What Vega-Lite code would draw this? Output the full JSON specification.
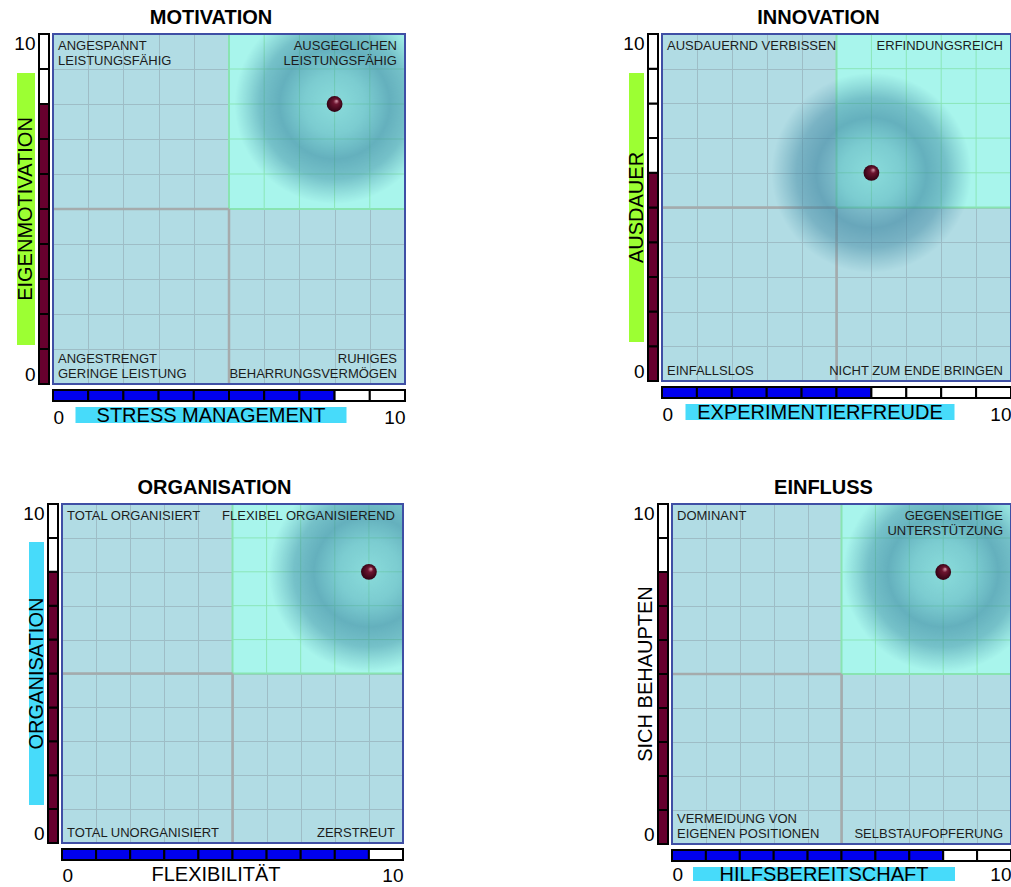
{
"$schema": "https://vega.github.io/schema/vega-lite/v6.json",
"padding": {"left": 13, "top": 8, "right": 0, "bottom": 0},
"config": {"font": "Liberation Sans", "view": {"stroke": null}, "title": {"font": "Liberation Sans"}, "axis": {"labelFont": "Liberation Sans"}},
"datasets": {
"scores": [{"p": "M", "x": 8, "y": 8}, {"p": "I", "x": 6, "y": 6}, {"p": "O", "x": 9, "y": 8}, {"p": "E", "x": 8, "y": 8}],
"qgrid": [{"v": 6}, {"v": 7}, {"v": 8}, {"v": 9}],
"labels": [
{"p": "M", "c": "tl", "t": "ANGESPANNT\nLEISTUNGSFÄHIG"},
{"p": "M", "c": "tr", "t": "AUSGEGLICHEN\nLEISTUNGSFÄHIG"},
{"p": "M", "c": "bl", "t": "ANGESTRENGT\nGERINGE LEISTUNG"},
{"p": "M", "c": "br", "t": "RUHIGES\nBEHARRUNGSVERMÖGEN"},
{"p": "I", "c": "tl", "t": "AUSDAUERND VERBISSEN"},
{"p": "I", "c": "tr", "t": "ERFINDUNGSREICH"},
{"p": "I", "c": "bl", "t": "EINFALLSLOS"},
{"p": "I", "c": "br", "t": "NICHT ZUM ENDE BRINGEN"},
{"p": "O", "c": "tl", "t": "TOTAL ORGANISIERT"},
{"p": "O", "c": "tr", "t": "FLEXIBEL ORGANISIEREND"},
{"p": "O", "c": "bl", "t": "TOTAL UNORGANISIERT"},
{"p": "O", "c": "br", "t": "ZERSTREUT"},
{"p": "E", "c": "tl", "t": "DOMINANT"},
{"p": "E", "c": "tr", "t": "GEGENSEITIGE\nUNTERSTÜTZUNG"},
{"p": "E", "c": "bl", "t": "VERMEIDUNG VON\nEIGENEN POSITIONEN"},
{"p": "E", "c": "br", "t": "SELBSTAUFOPFERUNG"}
],
"segs": [
{"p":"M","b":"v","lo":0,"hi":1,"on":1},{"p":"M","b":"v","lo":1,"hi":2,"on":1},{"p":"M","b":"v","lo":2,"hi":3,"on":1},{"p":"M","b":"v","lo":3,"hi":4,"on":1},{"p":"M","b":"v","lo":4,"hi":5,"on":1},{"p":"M","b":"v","lo":5,"hi":6,"on":1},{"p":"M","b":"v","lo":6,"hi":7,"on":1},{"p":"M","b":"v","lo":7,"hi":8,"on":1},{"p":"M","b":"v","lo":8,"hi":9,"on":0},{"p":"M","b":"v","lo":9,"hi":10,"on":0},
{"p":"M","b":"h","lo":0,"hi":1,"on":1},{"p":"M","b":"h","lo":1,"hi":2,"on":1},{"p":"M","b":"h","lo":2,"hi":3,"on":1},{"p":"M","b":"h","lo":3,"hi":4,"on":1},{"p":"M","b":"h","lo":4,"hi":5,"on":1},{"p":"M","b":"h","lo":5,"hi":6,"on":1},{"p":"M","b":"h","lo":6,"hi":7,"on":1},{"p":"M","b":"h","lo":7,"hi":8,"on":1},{"p":"M","b":"h","lo":8,"hi":9,"on":0},{"p":"M","b":"h","lo":9,"hi":10,"on":0},
{"p":"I","b":"v","lo":0,"hi":1,"on":1},{"p":"I","b":"v","lo":1,"hi":2,"on":1},{"p":"I","b":"v","lo":2,"hi":3,"on":1},{"p":"I","b":"v","lo":3,"hi":4,"on":1},{"p":"I","b":"v","lo":4,"hi":5,"on":1},{"p":"I","b":"v","lo":5,"hi":6,"on":1},{"p":"I","b":"v","lo":6,"hi":7,"on":0},{"p":"I","b":"v","lo":7,"hi":8,"on":0},{"p":"I","b":"v","lo":8,"hi":9,"on":0},{"p":"I","b":"v","lo":9,"hi":10,"on":0},
{"p":"I","b":"h","lo":0,"hi":1,"on":1},{"p":"I","b":"h","lo":1,"hi":2,"on":1},{"p":"I","b":"h","lo":2,"hi":3,"on":1},{"p":"I","b":"h","lo":3,"hi":4,"on":1},{"p":"I","b":"h","lo":4,"hi":5,"on":1},{"p":"I","b":"h","lo":5,"hi":6,"on":1},{"p":"I","b":"h","lo":6,"hi":7,"on":0},{"p":"I","b":"h","lo":7,"hi":8,"on":0},{"p":"I","b":"h","lo":8,"hi":9,"on":0},{"p":"I","b":"h","lo":9,"hi":10,"on":0},
{"p":"O","b":"v","lo":0,"hi":1,"on":1},{"p":"O","b":"v","lo":1,"hi":2,"on":1},{"p":"O","b":"v","lo":2,"hi":3,"on":1},{"p":"O","b":"v","lo":3,"hi":4,"on":1},{"p":"O","b":"v","lo":4,"hi":5,"on":1},{"p":"O","b":"v","lo":5,"hi":6,"on":1},{"p":"O","b":"v","lo":6,"hi":7,"on":1},{"p":"O","b":"v","lo":7,"hi":8,"on":1},{"p":"O","b":"v","lo":8,"hi":9,"on":0},{"p":"O","b":"v","lo":9,"hi":10,"on":0},
{"p":"O","b":"h","lo":0,"hi":1,"on":1},{"p":"O","b":"h","lo":1,"hi":2,"on":1},{"p":"O","b":"h","lo":2,"hi":3,"on":1},{"p":"O","b":"h","lo":3,"hi":4,"on":1},{"p":"O","b":"h","lo":4,"hi":5,"on":1},{"p":"O","b":"h","lo":5,"hi":6,"on":1},{"p":"O","b":"h","lo":6,"hi":7,"on":1},{"p":"O","b":"h","lo":7,"hi":8,"on":1},{"p":"O","b":"h","lo":8,"hi":9,"on":1},{"p":"O","b":"h","lo":9,"hi":10,"on":0},
{"p":"E","b":"v","lo":0,"hi":1,"on":1},{"p":"E","b":"v","lo":1,"hi":2,"on":1},{"p":"E","b":"v","lo":2,"hi":3,"on":1},{"p":"E","b":"v","lo":3,"hi":4,"on":1},{"p":"E","b":"v","lo":4,"hi":5,"on":1},{"p":"E","b":"v","lo":5,"hi":6,"on":1},{"p":"E","b":"v","lo":6,"hi":7,"on":1},{"p":"E","b":"v","lo":7,"hi":8,"on":1},{"p":"E","b":"v","lo":8,"hi":9,"on":0},{"p":"E","b":"v","lo":9,"hi":10,"on":0},
{"p":"E","b":"h","lo":0,"hi":1,"on":1},{"p":"E","b":"h","lo":1,"hi":2,"on":1},{"p":"E","b":"h","lo":2,"hi":3,"on":1},{"p":"E","b":"h","lo":3,"hi":4,"on":1},{"p":"E","b":"h","lo":4,"hi":5,"on":1},{"p":"E","b":"h","lo":5,"hi":6,"on":1},{"p":"E","b":"h","lo":6,"hi":7,"on":1},{"p":"E","b":"h","lo":7,"hi":8,"on":1},{"p":"E","b":"h","lo":8,"hi":9,"on":0},{"p":"E","b":"h","lo":9,"hi":10,"on":0}
]
},
"spacing": 51,
"vconcat": [
{"hconcat": [
{"concat": [
{"width": 18, "height": 272, "view": {"fill": "#9cff33"}, "data": {"values": [{"t": "EIGENMOTIVATION"}]}, "mark": {"type": "text", "angle": 270, "fontSize": 20, "baseline": "middle", "color": "black"}, "encoding": {"text": {"field": "t"}, "x": {"field": "t", "type": "nominal", "axis": null}, "y": {"field": "t", "type": "nominal", "axis": null}}},
{"width": 10, "height": 350, "data": {"name": "segs"}, "transform": [{"filter": "datum.p==='M' && datum.b==='v'"}], "mark": {"type": "rect", "stroke": "black", "strokeWidth": 2}, "encoding": {"y": {"field": "lo", "type": "quantitative", "scale": {"domain": [0, 10], "nice": false}, "axis": {"values": [0, 10], "labelFlush": true, "labelFontSize": 19, "labelColor": "black", "labelPadding": 4, "ticks": false, "domain": false, "grid": false, "title": null}}, "y2": {"field": "hi"}, "fill": {"condition": {"test": "datum.on === 1", "value": "#66002e"}, "value": "white"}}},
{"width": 352, "height": 350,
 "title": {"text": "MOTIVATION", "fontSize": 20, "fontWeight": "bold", "anchor": "middle", "dx": -18, "offset": 5, "color": "black"},
 "view": {"fill": "#b1dce4"},
 "layer": [
  {"data": {"values": [{}]}, "mark": {"type": "rect", "fill": "#a8f5ec", "stroke": "#88e4b2", "strokeWidth": 2}, "encoding": {"x": {"datum": 5, "type": "quantitative", "scale": {"domain": [0, 10], "nice": false, "zero": false}, "axis": {"values": [1,2,3,4,5,6,7,8,9], "grid": true, "gridColor": "#9ebdc6", "gridWidth": 1, "labels": false, "ticks": false, "domain": false, "title": null}}, "x2": {"datum": 10}, "y": {"datum": 5, "type": "quantitative", "scale": {"domain": [0, 10], "nice": false, "zero": false}, "axis": {"values": [1,2,3,4,5,6,7,8,9], "grid": true, "gridColor": "#9ebdc6", "gridWidth": 1, "labels": false, "ticks": false, "domain": false, "title": null}}, "y2": {"datum": 10}}},
  {"data": {"name": "qgrid"}, "mark": {"type": "rule", "color": "#8ae6b8", "strokeWidth": 1}, "encoding": {"x": {"field": "v", "type": "quantitative"}, "y": {"datum": 5, "type": "quantitative"}, "y2": {"datum": 10}}},
  {"data": {"name": "qgrid"}, "mark": {"type": "rule", "color": "#8ae6b8", "strokeWidth": 1}, "encoding": {"y": {"field": "v", "type": "quantitative"}, "x": {"datum": 5, "type": "quantitative"}, "x2": {"datum": 10}}},
  {"data": {"values": [{}]}, "mark": {"type": "rule", "color": "#a5abac", "strokeWidth": 2.5}, "encoding": {"x": {"datum": 5, "type": "quantitative"}, "y": {"datum": 0, "type": "quantitative"}, "y2": {"datum": 5}}},
  {"data": {"values": [{}]}, "mark": {"type": "rule", "color": "#a5abac", "strokeWidth": 2.5}, "encoding": {"y": {"datum": 5, "type": "quantitative"}, "x": {"datum": 0, "type": "quantitative"}, "x2": {"datum": 5}}},
  {"data": {"name": "scores"}, "transform": [{"filter": "datum.p==='M'"}], "mark": {"type": "point", "shape": "circle", "filled": true, "size": 40000, "opacity": 1, "clip": true, "strokeWidth": 0, "fill": {"gradient": "radial", "x1": 0.5, "y1": 0.5, "r1": 0, "x2": 0.5, "y2": 0.5, "r2": 0.5, "stops": [{"offset": 0, "color": "rgba(80,170,185,0.35)"}, {"offset": 0.3, "color": "rgba(70,155,175,0.45)"}, {"offset": 0.55, "color": "rgba(55,130,158,0.6)"}, {"offset": 0.75, "color": "rgba(55,130,158,0.45)"}, {"offset": 0.9, "color": "rgba(60,135,160,0.18)"}, {"offset": 1, "color": "rgba(60,135,160,0)"}]}}, "encoding": {"x": {"field": "x", "type": "quantitative"}, "y": {"field": "y", "type": "quantitative"}}},
  {"data": {"name": "scores"}, "transform": [{"filter": "datum.p==='M'"}], "mark": {"type": "point", "shape": "circle", "filled": true, "size": 250, "opacity": 1, "strokeWidth": 0, "fill": {"gradient": "radial", "x1": 0.64, "y1": 0.3, "r1": 0, "x2": 0.5, "y2": 0.5, "r2": 0.55, "stops": [{"offset": 0, "color": "#e0a8b8"}, {"offset": 0.3, "color": "#6e1530"}, {"offset": 1, "color": "#2a0010"}]}}, "encoding": {"x": {"field": "x", "type": "quantitative"}, "y": {"field": "y", "type": "quantitative"}}},
  {"data": {"name": "labels"}, "transform": [{"filter": "datum.p==='M' && datum.c==='tl'"}], "mark": {"type": "text", "align": "left", "baseline": "top", "dx": 5, "dy": 6, "fontSize": 13, "lineHeight": 15, "lineBreak": "\n", "color": "#1c1c1c"}, "encoding": {"x": {"datum": 0, "type": "quantitative"}, "y": {"datum": 10, "type": "quantitative"}, "text": {"field": "t"}}},
  {"data": {"name": "labels"}, "transform": [{"filter": "datum.p==='M' && datum.c==='tr'"}], "mark": {"type": "text", "align": "right", "baseline": "top", "dx": -8, "dy": 6, "fontSize": 13, "lineHeight": 15, "lineBreak": "\n", "color": "#1c1c1c"}, "encoding": {"x": {"datum": 10, "type": "quantitative"}, "y": {"datum": 10, "type": "quantitative"}, "text": {"field": "t"}}},
  {"data": {"name": "labels"}, "transform": [{"filter": "datum.p==='M' && datum.c==='bl'"}], "mark": {"type": "text", "align": "left", "baseline": "alphabetic", "dx": 5, "dy": -21, "fontSize": 13, "lineHeight": 15, "lineBreak": "\n", "color": "#1c1c1c"}, "encoding": {"x": {"datum": 0, "type": "quantitative"}, "y": {"datum": 0, "type": "quantitative"}, "text": {"field": "t"}}},
  {"data": {"name": "labels"}, "transform": [{"filter": "datum.p==='M' && datum.c==='br'"}], "mark": {"type": "text", "align": "right", "baseline": "alphabetic", "dx": -8, "dy": -21, "fontSize": 13, "lineHeight": 15, "lineBreak": "\n", "color": "#1c1c1c"}, "encoding": {"x": {"datum": 10, "type": "quantitative"}, "y": {"datum": 0, "type": "quantitative"}, "text": {"field": "t"}}},
  {"data": {"values": [{}]}, "mark": {"type": "rect", "fill": "transparent", "stroke": "#3f4fa5", "strokeWidth": 2}, "encoding": {"x": {"datum": 0, "type": "quantitative"}, "x2": {"datum": 10}, "y": {"datum": 0, "type": "quantitative"}, "y2": {"datum": 10}}}
 ]},
{"width": 1, "height": 1, "data": {"values": [{}]}, "mark": {"type": "point", "opacity": 0}},
{"width": 1, "height": 1, "data": {"values": [{}]}, "mark": {"type": "point", "opacity": 0}},
{"width": 352, "height": 11, "data": {"name": "segs"}, "transform": [{"filter": "datum.p==='M' && datum.b==='h'"}], "mark": {"type": "rect", "stroke": "black", "strokeWidth": 2}, "encoding": {"x": {"field": "lo", "type": "quantitative", "scale": {"domain": [0, 10], "nice": false}, "axis": {"values": [0, 10], "labelFlush": true, "labelFontSize": 19, "labelColor": "black", "labelPadding": 7, "ticks": false, "domain": false, "grid": false, "title": null}}, "x2": {"field": "hi"}, "fill": {"condition": {"test": "datum.on === 1", "value": "#0000ee"}, "value": "white"}}},
{"width": 1, "height": 1, "data": {"values": [{}]}, "mark": {"type": "point", "opacity": 0}},
{"width": 1, "height": 1, "data": {"values": [{}]}, "mark": {"type": "point", "opacity": 0}},
{"width": 271, "height": 16, "view": {"fill": "#47dbfa"}, "data": {"values": [{"t": "STRESS MANAGEMENT"}]}, "mark": {"type": "text", "fontSize": 20, "baseline": "middle", "dy": 1, "color": "black"}, "encoding": {"text": {"field": "t"}, "x": {"field": "t", "type": "nominal", "axis": null}, "y": {"field": "t", "type": "nominal", "axis": null}}}
], "columns": 3, "spacing": {"row": 6, "column": 4}, "bounds": "flush", "align": "each", "center": true},

{"concat": [
{"width": 15, "height": 269, "view": {"fill": "#9cff33"}, "data": {"values": [{"t": "AUSDAUER"}]}, "mark": {"type": "text", "angle": 270, "fontSize": 20, "baseline": "middle", "color": "black"}, "encoding": {"text": {"field": "t"}, "x": {"field": "t", "type": "nominal", "axis": null}, "y": {"field": "t", "type": "nominal", "axis": null}}},
{"width": 10, "height": 347, "data": {"name": "segs"}, "transform": [{"filter": "datum.p==='I' && datum.b==='v'"}], "mark": {"type": "rect", "stroke": "black", "strokeWidth": 2}, "encoding": {"y": {"field": "lo", "type": "quantitative", "scale": {"domain": [0, 10], "nice": false}, "axis": {"values": [0, 10], "labelFlush": true, "labelFontSize": 19, "labelColor": "black", "labelPadding": 4, "ticks": false, "domain": false, "grid": false, "title": null}}, "y2": {"field": "hi"}, "fill": {"condition": {"test": "datum.on === 1", "value": "#66002e"}, "value": "white"}}},
{"width": 349, "height": 347,
 "title": {"text": "INNOVATION", "fontSize": 20, "fontWeight": "bold", "anchor": "middle", "dx": -18, "offset": 5, "color": "black"},
 "view": {"fill": "#b1dce4"},
 "layer": [
  {"data": {"values": [{}]}, "mark": {"type": "rect", "fill": "#a8f5ec", "stroke": "#88e4b2", "strokeWidth": 2}, "encoding": {"x": {"datum": 5, "type": "quantitative", "scale": {"domain": [0, 10], "nice": false, "zero": false}, "axis": {"values": [1,2,3,4,5,6,7,8,9], "grid": true, "gridColor": "#9ebdc6", "gridWidth": 1, "labels": false, "ticks": false, "domain": false, "title": null}}, "x2": {"datum": 10}, "y": {"datum": 5, "type": "quantitative", "scale": {"domain": [0, 10], "nice": false, "zero": false}, "axis": {"values": [1,2,3,4,5,6,7,8,9], "grid": true, "gridColor": "#9ebdc6", "gridWidth": 1, "labels": false, "ticks": false, "domain": false, "title": null}}, "y2": {"datum": 10}}},
  {"data": {"name": "qgrid"}, "mark": {"type": "rule", "color": "#8ae6b8", "strokeWidth": 1}, "encoding": {"x": {"field": "v", "type": "quantitative"}, "y": {"datum": 5, "type": "quantitative"}, "y2": {"datum": 10}}},
  {"data": {"name": "qgrid"}, "mark": {"type": "rule", "color": "#8ae6b8", "strokeWidth": 1}, "encoding": {"y": {"field": "v", "type": "quantitative"}, "x": {"datum": 5, "type": "quantitative"}, "x2": {"datum": 10}}},
  {"data": {"values": [{}]}, "mark": {"type": "rule", "color": "#a5abac", "strokeWidth": 2.5}, "encoding": {"x": {"datum": 5, "type": "quantitative"}, "y": {"datum": 0, "type": "quantitative"}, "y2": {"datum": 5}}},
  {"data": {"values": [{}]}, "mark": {"type": "rule", "color": "#a5abac", "strokeWidth": 2.5}, "encoding": {"y": {"datum": 5, "type": "quantitative"}, "x": {"datum": 0, "type": "quantitative"}, "x2": {"datum": 5}}},
  {"data": {"name": "scores"}, "transform": [{"filter": "datum.p==='I'"}], "mark": {"type": "point", "shape": "circle", "filled": true, "size": 40000, "opacity": 1, "clip": true, "strokeWidth": 0, "fill": {"gradient": "radial", "x1": 0.5, "y1": 0.5, "r1": 0, "x2": 0.5, "y2": 0.5, "r2": 0.5, "stops": [{"offset": 0, "color": "rgba(80,170,185,0.35)"}, {"offset": 0.3, "color": "rgba(70,155,175,0.45)"}, {"offset": 0.55, "color": "rgba(55,130,158,0.6)"}, {"offset": 0.75, "color": "rgba(55,130,158,0.45)"}, {"offset": 0.9, "color": "rgba(60,135,160,0.18)"}, {"offset": 1, "color": "rgba(60,135,160,0)"}]}}, "encoding": {"x": {"field": "x", "type": "quantitative"}, "y": {"field": "y", "type": "quantitative"}}},
  {"data": {"name": "scores"}, "transform": [{"filter": "datum.p==='I'"}], "mark": {"type": "point", "shape": "circle", "filled": true, "size": 250, "opacity": 1, "strokeWidth": 0, "fill": {"gradient": "radial", "x1": 0.64, "y1": 0.3, "r1": 0, "x2": 0.5, "y2": 0.5, "r2": 0.55, "stops": [{"offset": 0, "color": "#e0a8b8"}, {"offset": 0.3, "color": "#6e1530"}, {"offset": 1, "color": "#2a0010"}]}}, "encoding": {"x": {"field": "x", "type": "quantitative"}, "y": {"field": "y", "type": "quantitative"}}},
  {"data": {"name": "labels"}, "transform": [{"filter": "datum.p==='I' && datum.c==='tl'"}], "mark": {"type": "text", "align": "left", "baseline": "top", "dx": 5, "dy": 6, "fontSize": 13, "lineHeight": 15, "lineBreak": "\n", "color": "#1c1c1c"}, "encoding": {"x": {"datum": 0, "type": "quantitative"}, "y": {"datum": 10, "type": "quantitative"}, "text": {"field": "t"}}},
  {"data": {"name": "labels"}, "transform": [{"filter": "datum.p==='I' && datum.c==='tr'"}], "mark": {"type": "text", "align": "right", "baseline": "top", "dx": -8, "dy": 6, "fontSize": 13, "lineHeight": 15, "lineBreak": "\n", "color": "#1c1c1c"}, "encoding": {"x": {"datum": 10, "type": "quantitative"}, "y": {"datum": 10, "type": "quantitative"}, "text": {"field": "t"}}},
  {"data": {"name": "labels"}, "transform": [{"filter": "datum.p==='I' && datum.c==='bl'"}], "mark": {"type": "text", "align": "left", "baseline": "alphabetic", "dx": 5, "dy": -6, "fontSize": 13, "lineHeight": 15, "lineBreak": "\n", "color": "#1c1c1c"}, "encoding": {"x": {"datum": 0, "type": "quantitative"}, "y": {"datum": 0, "type": "quantitative"}, "text": {"field": "t"}}},
  {"data": {"name": "labels"}, "transform": [{"filter": "datum.p==='I' && datum.c==='br'"}], "mark": {"type": "text", "align": "right", "baseline": "alphabetic", "dx": -8, "dy": -6, "fontSize": 13, "lineHeight": 15, "lineBreak": "\n", "color": "#1c1c1c"}, "encoding": {"x": {"datum": 10, "type": "quantitative"}, "y": {"datum": 0, "type": "quantitative"}, "text": {"field": "t"}}},
  {"data": {"values": [{}]}, "mark": {"type": "rect", "fill": "transparent", "stroke": "#3f4fa5", "strokeWidth": 2}, "encoding": {"x": {"datum": 0, "type": "quantitative"}, "x2": {"datum": 10}, "y": {"datum": 0, "type": "quantitative"}, "y2": {"datum": 10}}}
 ]},
{"width": 1, "height": 1, "data": {"values": [{}]}, "mark": {"type": "point", "opacity": 0}},
{"width": 1, "height": 1, "data": {"values": [{}]}, "mark": {"type": "point", "opacity": 0}},
{"width": 349, "height": 11, "data": {"name": "segs"}, "transform": [{"filter": "datum.p==='I' && datum.b==='h'"}], "mark": {"type": "rect", "stroke": "black", "strokeWidth": 2}, "encoding": {"x": {"field": "lo", "type": "quantitative", "scale": {"domain": [0, 10], "nice": false}, "axis": {"values": [0, 10], "labelFlush": true, "labelFontSize": 19, "labelColor": "black", "labelPadding": 7, "ticks": false, "domain": false, "grid": false, "title": null}}, "x2": {"field": "hi"}, "fill": {"condition": {"test": "datum.on === 1", "value": "#0000ee"}, "value": "white"}}},
{"width": 1, "height": 1, "data": {"values": [{}]}, "mark": {"type": "point", "opacity": 0}},
{"width": 1, "height": 1, "data": {"values": [{}]}, "mark": {"type": "point", "opacity": 0}},
{"width": 269, "height": 16, "view": {"fill": "#47dbfa"}, "data": {"values": [{"t": "EXPERIMENTIERFREUDE"}]}, "mark": {"type": "text", "fontSize": 20, "baseline": "middle", "dy": 1, "color": "black"}, "encoding": {"text": {"field": "t"}, "x": {"field": "t", "type": "nominal", "axis": null}, "y": {"field": "t", "type": "nominal", "axis": null}}}
], "columns": 3, "spacing": {"row": 6, "column": 4}, "bounds": "flush", "align": "each", "center": true}
], "spacing": 216},

{"hconcat": [
{"width": 4, "height": 1, "data": {"values": [{}]}, "mark": {"type": "point", "opacity": 0}},
{"hconcat": [
{"concat": [
{"width": 15, "height": 263, "view": {"fill": "#47dbfa"}, "data": {"values": [{"t": "ORGANISATION"}]}, "mark": {"type": "text", "angle": 270, "fontSize": 20, "baseline": "middle", "color": "black"}, "encoding": {"text": {"field": "t"}, "x": {"field": "t", "type": "nominal", "axis": null}, "y": {"field": "t", "type": "nominal", "axis": null}}},
{"width": 10, "height": 339, "data": {"name": "segs"}, "transform": [{"filter": "datum.p==='O' && datum.b==='v'"}], "mark": {"type": "rect", "stroke": "black", "strokeWidth": 2}, "encoding": {"y": {"field": "lo", "type": "quantitative", "scale": {"domain": [0, 10], "nice": false}, "axis": {"values": [0, 10], "labelFlush": true, "labelFontSize": 19, "labelColor": "black", "labelPadding": 4, "ticks": false, "domain": false, "grid": false, "title": null}}, "y2": {"field": "hi"}, "fill": {"condition": {"test": "datum.on === 1", "value": "#66002e"}, "value": "white"}}},
{"width": 341, "height": 339,
 "title": {"text": "ORGANISATION", "fontSize": 20, "fontWeight": "bold", "anchor": "middle", "dx": -18, "offset": 5, "color": "black"},
 "view": {"fill": "#b1dce4"},
 "layer": [
  {"data": {"values": [{}]}, "mark": {"type": "rect", "fill": "#a8f5ec", "stroke": "#88e4b2", "strokeWidth": 2}, "encoding": {"x": {"datum": 5, "type": "quantitative", "scale": {"domain": [0, 10], "nice": false, "zero": false}, "axis": {"values": [1,2,3,4,5,6,7,8,9], "grid": true, "gridColor": "#9ebdc6", "gridWidth": 1, "labels": false, "ticks": false, "domain": false, "title": null}}, "x2": {"datum": 10}, "y": {"datum": 5, "type": "quantitative", "scale": {"domain": [0, 10], "nice": false, "zero": false}, "axis": {"values": [1,2,3,4,5,6,7,8,9], "grid": true, "gridColor": "#9ebdc6", "gridWidth": 1, "labels": false, "ticks": false, "domain": false, "title": null}}, "y2": {"datum": 10}}},
  {"data": {"name": "qgrid"}, "mark": {"type": "rule", "color": "#8ae6b8", "strokeWidth": 1}, "encoding": {"x": {"field": "v", "type": "quantitative"}, "y": {"datum": 5, "type": "quantitative"}, "y2": {"datum": 10}}},
  {"data": {"name": "qgrid"}, "mark": {"type": "rule", "color": "#8ae6b8", "strokeWidth": 1}, "encoding": {"y": {"field": "v", "type": "quantitative"}, "x": {"datum": 5, "type": "quantitative"}, "x2": {"datum": 10}}},
  {"data": {"values": [{}]}, "mark": {"type": "rule", "color": "#a5abac", "strokeWidth": 2.5}, "encoding": {"x": {"datum": 5, "type": "quantitative"}, "y": {"datum": 0, "type": "quantitative"}, "y2": {"datum": 5}}},
  {"data": {"values": [{}]}, "mark": {"type": "rule", "color": "#a5abac", "strokeWidth": 2.5}, "encoding": {"y": {"datum": 5, "type": "quantitative"}, "x": {"datum": 0, "type": "quantitative"}, "x2": {"datum": 5}}},
  {"data": {"name": "scores"}, "transform": [{"filter": "datum.p==='O'"}], "mark": {"type": "point", "shape": "circle", "filled": true, "size": 40000, "opacity": 1, "clip": true, "strokeWidth": 0, "fill": {"gradient": "radial", "x1": 0.5, "y1": 0.5, "r1": 0, "x2": 0.5, "y2": 0.5, "r2": 0.5, "stops": [{"offset": 0, "color": "rgba(80,170,185,0.35)"}, {"offset": 0.3, "color": "rgba(70,155,175,0.45)"}, {"offset": 0.55, "color": "rgba(55,130,158,0.6)"}, {"offset": 0.75, "color": "rgba(55,130,158,0.45)"}, {"offset": 0.9, "color": "rgba(60,135,160,0.18)"}, {"offset": 1, "color": "rgba(60,135,160,0)"}]}}, "encoding": {"x": {"field": "x", "type": "quantitative"}, "y": {"field": "y", "type": "quantitative"}}},
  {"data": {"name": "scores"}, "transform": [{"filter": "datum.p==='O'"}], "mark": {"type": "point", "shape": "circle", "filled": true, "size": 250, "opacity": 1, "strokeWidth": 0, "fill": {"gradient": "radial", "x1": 0.64, "y1": 0.3, "r1": 0, "x2": 0.5, "y2": 0.5, "r2": 0.55, "stops": [{"offset": 0, "color": "#e0a8b8"}, {"offset": 0.3, "color": "#6e1530"}, {"offset": 1, "color": "#2a0010"}]}}, "encoding": {"x": {"field": "x", "type": "quantitative"}, "y": {"field": "y", "type": "quantitative"}}},
  {"data": {"name": "labels"}, "transform": [{"filter": "datum.p==='O' && datum.c==='tl'"}], "mark": {"type": "text", "align": "left", "baseline": "top", "dx": 5, "dy": 6, "fontSize": 13, "lineHeight": 15, "lineBreak": "\n", "color": "#1c1c1c"}, "encoding": {"x": {"datum": 0, "type": "quantitative"}, "y": {"datum": 10, "type": "quantitative"}, "text": {"field": "t"}}},
  {"data": {"name": "labels"}, "transform": [{"filter": "datum.p==='O' && datum.c==='tr'"}], "mark": {"type": "text", "align": "right", "baseline": "top", "dx": -8, "dy": 6, "fontSize": 13, "lineHeight": 15, "lineBreak": "\n", "color": "#1c1c1c"}, "encoding": {"x": {"datum": 10, "type": "quantitative"}, "y": {"datum": 10, "type": "quantitative"}, "text": {"field": "t"}}},
  {"data": {"name": "labels"}, "transform": [{"filter": "datum.p==='O' && datum.c==='bl'"}], "mark": {"type": "text", "align": "left", "baseline": "alphabetic", "dx": 5, "dy": -6, "fontSize": 13, "lineHeight": 15, "lineBreak": "\n", "color": "#1c1c1c"}, "encoding": {"x": {"datum": 0, "type": "quantitative"}, "y": {"datum": 0, "type": "quantitative"}, "text": {"field": "t"}}},
  {"data": {"name": "labels"}, "transform": [{"filter": "datum.p==='O' && datum.c==='br'"}], "mark": {"type": "text", "align": "right", "baseline": "alphabetic", "dx": -8, "dy": -6, "fontSize": 13, "lineHeight": 15, "lineBreak": "\n", "color": "#1c1c1c"}, "encoding": {"x": {"datum": 10, "type": "quantitative"}, "y": {"datum": 0, "type": "quantitative"}, "text": {"field": "t"}}},
  {"data": {"values": [{}]}, "mark": {"type": "rect", "fill": "transparent", "stroke": "#3f4fa5", "strokeWidth": 2}, "encoding": {"x": {"datum": 0, "type": "quantitative"}, "x2": {"datum": 10}, "y": {"datum": 0, "type": "quantitative"}, "y2": {"datum": 10}}}
 ]},
{"width": 1, "height": 1, "data": {"values": [{}]}, "mark": {"type": "point", "opacity": 0}},
{"width": 1, "height": 1, "data": {"values": [{}]}, "mark": {"type": "point", "opacity": 0}},
{"width": 341, "height": 11, "data": {"name": "segs"}, "transform": [{"filter": "datum.p==='O' && datum.b==='h'"}], "mark": {"type": "rect", "stroke": "black", "strokeWidth": 2}, "encoding": {"x": {"field": "lo", "type": "quantitative", "scale": {"domain": [0, 10], "nice": false}, "axis": {"values": [0, 10], "labelFlush": true, "labelFontSize": 19, "labelColor": "black", "labelPadding": 6, "ticks": false, "domain": false, "grid": false, "title": null}}, "x2": {"field": "hi"}, "fill": {"condition": {"test": "datum.on === 1", "value": "#0000ee"}, "value": "white"}}},
{"width": 1, "height": 1, "data": {"values": [{}]}, "mark": {"type": "point", "opacity": 0}},
{"width": 1, "height": 1, "data": {"values": [{}]}, "mark": {"type": "point", "opacity": 0}},
{"width": 262, "height": 16, "data": {"values": [{"t": "FLEXIBILITÄT"}]}, "mark": {"type": "text", "fontSize": 20, "baseline": "middle", "dy": 1, "color": "black"}, "encoding": {"text": {"field": "t"}, "x": {"field": "t", "type": "nominal", "axis": null}, "y": {"field": "t", "type": "nominal", "axis": null}}}
], "columns": 3, "spacing": {"row": 6, "column": 4}, "bounds": "flush", "align": "each", "center": true},

{"concat": [
{"width": 17, "height": 263, "data": {"values": [{"t": "SICH BEHAUPTEN"}]}, "mark": {"type": "text", "angle": 270, "fontSize": 20, "baseline": "middle", "color": "black"}, "encoding": {"text": {"field": "t"}, "x": {"field": "t", "type": "nominal", "axis": null}, "y": {"field": "t", "type": "nominal", "axis": null}}},
{"width": 10, "height": 340, "data": {"name": "segs"}, "transform": [{"filter": "datum.p==='E' && datum.b==='v'"}], "mark": {"type": "rect", "stroke": "black", "strokeWidth": 2}, "encoding": {"y": {"field": "lo", "type": "quantitative", "scale": {"domain": [0, 10], "nice": false}, "axis": {"values": [0, 10], "labelFlush": true, "labelFontSize": 19, "labelColor": "black", "labelPadding": 4, "ticks": false, "domain": false, "grid": false, "title": null}}, "y2": {"field": "hi"}, "fill": {"condition": {"test": "datum.on === 1", "value": "#66002e"}, "value": "white"}}},
{"width": 339, "height": 340,
 "title": {"text": "EINFLUSS", "fontSize": 20, "fontWeight": "bold", "anchor": "middle", "dx": -18, "offset": 5, "color": "black"},
 "view": {"fill": "#b1dce4"},
 "layer": [
  {"data": {"values": [{}]}, "mark": {"type": "rect", "fill": "#a8f5ec", "stroke": "#88e4b2", "strokeWidth": 2}, "encoding": {"x": {"datum": 5, "type": "quantitative", "scale": {"domain": [0, 10], "nice": false, "zero": false}, "axis": {"values": [1,2,3,4,5,6,7,8,9], "grid": true, "gridColor": "#9ebdc6", "gridWidth": 1, "labels": false, "ticks": false, "domain": false, "title": null}}, "x2": {"datum": 10}, "y": {"datum": 5, "type": "quantitative", "scale": {"domain": [0, 10], "nice": false, "zero": false}, "axis": {"values": [1,2,3,4,5,6,7,8,9], "grid": true, "gridColor": "#9ebdc6", "gridWidth": 1, "labels": false, "ticks": false, "domain": false, "title": null}}, "y2": {"datum": 10}}},
  {"data": {"name": "qgrid"}, "mark": {"type": "rule", "color": "#8ae6b8", "strokeWidth": 1}, "encoding": {"x": {"field": "v", "type": "quantitative"}, "y": {"datum": 5, "type": "quantitative"}, "y2": {"datum": 10}}},
  {"data": {"name": "qgrid"}, "mark": {"type": "rule", "color": "#8ae6b8", "strokeWidth": 1}, "encoding": {"y": {"field": "v", "type": "quantitative"}, "x": {"datum": 5, "type": "quantitative"}, "x2": {"datum": 10}}},
  {"data": {"values": [{}]}, "mark": {"type": "rule", "color": "#a5abac", "strokeWidth": 2.5}, "encoding": {"x": {"datum": 5, "type": "quantitative"}, "y": {"datum": 0, "type": "quantitative"}, "y2": {"datum": 5}}},
  {"data": {"values": [{}]}, "mark": {"type": "rule", "color": "#a5abac", "strokeWidth": 2.5}, "encoding": {"y": {"datum": 5, "type": "quantitative"}, "x": {"datum": 0, "type": "quantitative"}, "x2": {"datum": 5}}},
  {"data": {"name": "scores"}, "transform": [{"filter": "datum.p==='E'"}], "mark": {"type": "point", "shape": "circle", "filled": true, "size": 40000, "opacity": 1, "clip": true, "strokeWidth": 0, "fill": {"gradient": "radial", "x1": 0.5, "y1": 0.5, "r1": 0, "x2": 0.5, "y2": 0.5, "r2": 0.5, "stops": [{"offset": 0, "color": "rgba(80,170,185,0.35)"}, {"offset": 0.3, "color": "rgba(70,155,175,0.45)"}, {"offset": 0.55, "color": "rgba(55,130,158,0.6)"}, {"offset": 0.75, "color": "rgba(55,130,158,0.45)"}, {"offset": 0.9, "color": "rgba(60,135,160,0.18)"}, {"offset": 1, "color": "rgba(60,135,160,0)"}]}}, "encoding": {"x": {"field": "x", "type": "quantitative"}, "y": {"field": "y", "type": "quantitative"}}},
  {"data": {"name": "scores"}, "transform": [{"filter": "datum.p==='E'"}], "mark": {"type": "point", "shape": "circle", "filled": true, "size": 250, "opacity": 1, "strokeWidth": 0, "fill": {"gradient": "radial", "x1": 0.64, "y1": 0.3, "r1": 0, "x2": 0.5, "y2": 0.5, "r2": 0.55, "stops": [{"offset": 0, "color": "#e0a8b8"}, {"offset": 0.3, "color": "#6e1530"}, {"offset": 1, "color": "#2a0010"}]}}, "encoding": {"x": {"field": "x", "type": "quantitative"}, "y": {"field": "y", "type": "quantitative"}}},
  {"data": {"name": "labels"}, "transform": [{"filter": "datum.p==='E' && datum.c==='tl'"}], "mark": {"type": "text", "align": "left", "baseline": "top", "dx": 5, "dy": 6, "fontSize": 13, "lineHeight": 15, "lineBreak": "\n", "color": "#1c1c1c"}, "encoding": {"x": {"datum": 0, "type": "quantitative"}, "y": {"datum": 10, "type": "quantitative"}, "text": {"field": "t"}}},
  {"data": {"name": "labels"}, "transform": [{"filter": "datum.p==='E' && datum.c==='tr'"}], "mark": {"type": "text", "align": "right", "baseline": "top", "dx": -8, "dy": 6, "fontSize": 13, "lineHeight": 15, "lineBreak": "\n", "color": "#1c1c1c"}, "encoding": {"x": {"datum": 10, "type": "quantitative"}, "y": {"datum": 10, "type": "quantitative"}, "text": {"field": "t"}}},
  {"data": {"name": "labels"}, "transform": [{"filter": "datum.p==='E' && datum.c==='bl'"}], "mark": {"type": "text", "align": "left", "baseline": "alphabetic", "dx": 5, "dy": -21, "fontSize": 13, "lineHeight": 15, "lineBreak": "\n", "color": "#1c1c1c"}, "encoding": {"x": {"datum": 0, "type": "quantitative"}, "y": {"datum": 0, "type": "quantitative"}, "text": {"field": "t"}}},
  {"data": {"name": "labels"}, "transform": [{"filter": "datum.p==='E' && datum.c==='br'"}], "mark": {"type": "text", "align": "right", "baseline": "alphabetic", "dx": -8, "dy": -6, "fontSize": 13, "lineHeight": 15, "lineBreak": "\n", "color": "#1c1c1c"}, "encoding": {"x": {"datum": 10, "type": "quantitative"}, "y": {"datum": 0, "type": "quantitative"}, "text": {"field": "t"}}},
  {"data": {"values": [{}]}, "mark": {"type": "rect", "fill": "transparent", "stroke": "#3f4fa5", "strokeWidth": 2}, "encoding": {"x": {"datum": 0, "type": "quantitative"}, "x2": {"datum": 10}, "y": {"datum": 0, "type": "quantitative"}, "y2": {"datum": 10}}}
 ]},
{"width": 1, "height": 1, "data": {"values": [{}]}, "mark": {"type": "point", "opacity": 0}},
{"width": 1, "height": 1, "data": {"values": [{}]}, "mark": {"type": "point", "opacity": 0}},
{"width": 339, "height": 11, "data": {"name": "segs"}, "transform": [{"filter": "datum.p==='E' && datum.b==='h'"}], "mark": {"type": "rect", "stroke": "black", "strokeWidth": 2}, "encoding": {"x": {"field": "lo", "type": "quantitative", "scale": {"domain": [0, 10], "nice": false}, "axis": {"values": [0, 10], "labelFlush": true, "labelFontSize": 19, "labelColor": "black", "labelPadding": 4, "ticks": false, "domain": false, "grid": false, "title": null}}, "x2": {"field": "hi"}, "fill": {"condition": {"test": "datum.on === 1", "value": "#0000ee"}, "value": "white"}}},
{"width": 1, "height": 1, "data": {"values": [{}]}, "mark": {"type": "point", "opacity": 0}},
{"width": 1, "height": 1, "data": {"values": [{}]}, "mark": {"type": "point", "opacity": 0}},
{"width": 262, "height": 14, "view": {"fill": "#47dbfa"}, "data": {"values": [{"t": "HILFSBEREITSCHAFT"}]}, "mark": {"type": "text", "fontSize": 20, "baseline": "middle", "dy": 1, "color": "black"}, "encoding": {"text": {"field": "t"}, "x": {"field": "t", "type": "nominal", "axis": null}, "y": {"field": "t", "type": "nominal", "axis": null}}}
], "columns": 3, "spacing": {"row": 6, "column": 4}, "bounds": "flush", "align": "each", "center": true}
], "spacing": 228}
], "spacing": 0}
]
}
